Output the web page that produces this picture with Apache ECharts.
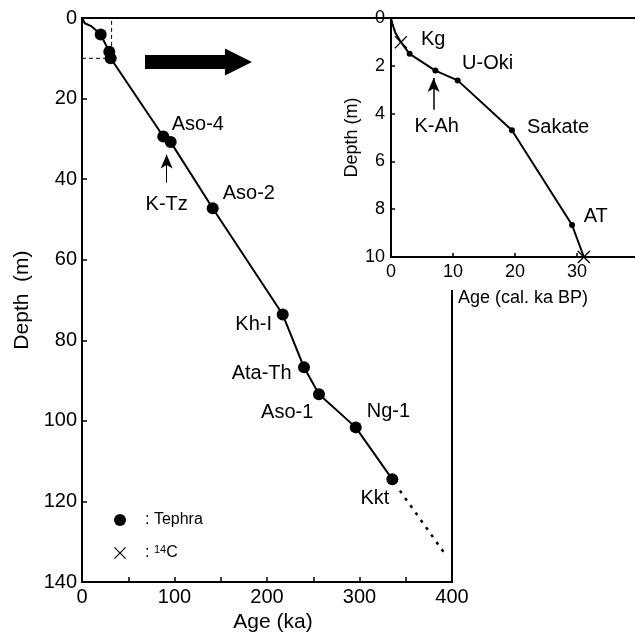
<!DOCTYPE html>
<html>
<head>
<meta charset="utf-8">
<script src="https://cdn.jsdelivr.net/npm/echarts@6/dist/echarts.min.js"></script>
<style>
  html, body { margin: 0; padding: 0; background: #fff; }
  #chart { width: 635px; height: 638px; }
</style>
</head>
<body>
<div id="chart"></div>
<script>
// main panel: age (ka) vs depth (m)
const mainLineAge = [0, 3, 10.5, 16, 20.2, 29.5, 31, 87.9, 95.9, 141.3, 217, 240, 256.2, 295.9, 335.5]
const mainLineDepth = [0, 1.3, 2.1, 3.2, 4.1, 8.4, 10, 29.4, 30.8, 47.2, 73.6, 86.7, 93.4, 101.6, 114.5]
const tephraNames = ['', '', '', 'Aso-4', 'K-Tz', 'Aso-2', 'Kh-I', 'Ata-Th', 'Aso-1', 'Ng-1', 'Kkt']
const tephraAge = [20.2, 29.5, 31, 87.9, 95.9, 141.3, 217, 240, 256.2, 295.9, 335.5]
const tephraDepth = [4.1, 8.4, 10, 29.4, 30.8, 47.2, 73.6, 86.7, 93.4, 101.6, 114.5]
const extrapAge = [343.7, 391.4]
const extrapDepth = [117.3, 132.7]
const boxAge = [0, 32, 32]
const boxDepth = [10, 10, 0]
const mainAgeTicks = [0, 100, 200, 300, 400]
const mainDepthTicks = [0, 20, 40, 60, 80, 100, 120, 140]

// inset: age (cal. ka BP) vs depth (m), top 10 m
const insetLineAge = [0, 0.2, 0.7, 1.6, 3.0, 7.15, 10.75, 19.5, 29.2, 31.1]
const insetLineDepth = [0, 0.22, 0.62, 1.01, 1.5, 2.2, 2.61, 4.7, 8.66, 10]
const insetTephraNames = ['Kg', 'K-Ah', 'U-Oki', 'Sakate', 'AT']
const insetTephraAge = [3.0, 7.15, 10.75, 19.5, 29.2]
const insetTephraDepth = [1.5, 2.2, 2.61, 4.7, 8.66]
const c14Age = [1.6, 31.1]
const c14Depth = [1.01, 10]

const font = 'Liberation Sans, Arial, sans-serif'
const crossPath = 'path://M0,0.7L0.7,0L5,4.3L9.3,0L10,0.7L5.7,5L10,9.3L9.3,10L5,5.7L0.7,10L0,9.3L4.3,5Z'

// label placement (px offsets from the marker centre)
const labelPos = {
  'Aso-4': ['left', 8.4, -11.6],
  'K-Tz': ['center', -4, 62.7],
  'Aso-2': ['left', 10, -14.3],
  'Kh-I': ['right', -10.7, 10],
  'Ata-Th': ['right', -12.3, 6.6],
  'Aso-1': ['right', -5.7, 18],
  'Ng-1': ['left', 11, -15.4],
  'Kkt': ['right', -3, 19],
  'Kg': ['left', 11.4, -14.3],
  'K-Ah': ['center', 1.3, 55.7],
  'U-Oki': ['left', 4.4, -16.7],
  'Sakate': ['left', 15, -2.4],
  'AT': ['left', 11.6, -8.3]
}

function pairs(xs, ys) {
  return xs.map((x, i) => [x, ys[i]])
}

function labelled(xs, ys, names) {
  return xs.map((x, i) => {
    const p = labelPos[names[i]]
    if (!p) return [x, ys[i]]
    return {
      value: [x, ys[i]],
      label: {
        show: true,
        formatter: names[i],
        position: 'inside',
        align: p[0],
        verticalAlign: 'middle',
        offset: [p[1], p[2]],
        color: '#000',
        opacity: 1,
        textBorderWidth: 0,
        fontSize: 20,
        fontFamily: font
      }
    }
  })
}

const chart = echarts.init(document.getElementById('chart'))

chart.setOption({
  animation: false,
  backgroundColor: '#fff',
  textStyle: { fontFamily: font, color: '#000' },
  legend: {
    left: 114,
    top: 512,
    padding: 0,
    orient: 'vertical',
    itemWidth: 12,
    itemHeight: 12,
    itemGap: 16,
    selectedMode: false,
    data: [
      { name: 'Tephra', icon: 'circle' },
      { name: '14C', icon: crossPath }
    ],
    formatter: name => name === '14C' ? '{g| }{t|: }{sup|14}{t|C}' : '{g| }{t|: Tephra}',
    textStyle: {
      fontSize: 16,
      color: '#000',
      fontFamily: font,
      rich: {
        g: { width: 14, fontSize: 16 },
        t: { fontSize: 16, lineHeight: 18, color: '#000', fontFamily: font },
        sup: { fontSize: 11, lineHeight: 11, verticalAlign: 'top', color: '#000', fontFamily: font }
      }
    }
  },
  grid: [
    { left: 82, top: 18, width: 370, height: 571, show: true, borderColor: '#000', borderWidth: 2, z: 0 },
    { left: 391, top: 18, width: 244, height: 239, show: false }
  ],
  graphic: [
    {
      type: 'rect',
      z: 4,
      shape: { x: 392, y: 19, width: 250, height: 271 },
      style: { fill: '#fff' },
      silent: true
    }
  ],
  xAxis: [
    {
      gridIndex: 0,
      type: 'value',
      position: 'bottom',
      min: 0,
      max: 400,
      interval: 50,
      name: 'Age (ka)',
      nameLocation: 'middle',
      nameGap: 25,
      nameTextStyle: { fontSize: 21, color: '#000', padding: [0, 0, 0, 12] },
      axisLine: { show: false, onZero: false },
      axisTick: { show: true, inside: true, length: 5, lineStyle: { color: '#000', width: 1.5 } },
      axisLabel: {
        fontSize: 20,
        color: '#000',
        margin: 5,
        formatter: v => mainAgeTicks.indexOf(v) >= 0 ? String(v) : ''
      },
      splitLine: { show: false }
    },
    {
      gridIndex: 1,
      type: 'value',
      position: 'bottom',
      min: 0,
      max: 39.35,
      interval: 10,
      z: 5,
      name: 'Age (cal. ka BP)',
      nameLocation: 'middle',
      nameGap: 32,
      nameTextStyle: { fontSize: 18, color: '#000', padding: [0, 0, 0, 20] },
      axisLine: { show: true, onZero: false, lineStyle: { color: '#000', width: 2 } },
      axisTick: { show: true, inside: true, length: 4, lineStyle: { color: '#000', width: 1.5 } },
      axisLabel: { fontSize: 18, color: '#000', margin: 6, showMaxLabel: false },
      splitLine: { show: false }
    },
    {
      gridIndex: 1,
      type: 'value',
      position: 'top',
      min: 0,
      max: 39.35,
      z: 5,
      axisLine: { show: true, onZero: false, lineStyle: { color: '#000', width: 2 } },
      axisTick: { show: false },
      axisLabel: { show: false },
      splitLine: { show: false }
    }
  ],
  yAxis: [
    {
      gridIndex: 0,
      type: 'value',
      position: 'left',
      inverse: true,
      min: 0,
      max: 140,
      interval: 20,
      name: 'Depth  (m)',
      nameLocation: 'middle',
      nameGap: 47,
      nameTextStyle: { fontSize: 21, color: '#000' },
      axisLine: { show: false, onZero: false },
      axisTick: { show: true, inside: true, length: 5, lineStyle: { color: '#000', width: 1.5 } },
      axisLabel: {
        fontSize: 20,
        color: '#000',
        margin: 5,
        formatter: v => mainDepthTicks.indexOf(v) >= 0 ? String(v) : ''
      },
      splitLine: { show: false }
    },
    {
      gridIndex: 1,
      type: 'value',
      position: 'left',
      inverse: true,
      min: 0,
      max: 10,
      interval: 2,
      z: 5,
      name: 'Depth (m)',
      nameLocation: 'middle',
      nameGap: 19,
      nameTextStyle: { fontSize: 18, color: '#000' },
      axisLine: { show: true, onZero: false, lineStyle: { color: '#000', width: 2 } },
      axisTick: { show: true, inside: true, length: 4, lineStyle: { color: '#000', width: 1.5 } },
      axisLabel: { fontSize: 18, color: '#000', margin: 6 },
      splitLine: { show: false }
    }
  ],
  series: [
    {
      name: 'mainLine',
      type: 'line',
      xAxisIndex: 0,
      yAxisIndex: 0,
      data: pairs(mainLineAge, mainLineDepth),
      showSymbol: false,
      lineStyle: { color: '#000', width: 2 },
      markLine: {
        silent: true,
        label: { show: false },
        data: [
          // K-Tz pointer
          [
            { coord: [91.5, 40.9], symbol: 'none' },
            { coord: [91.5, 33.9], symbol: 'arrow', symbolSize: [9, 14] }
          ],
          // big arrow pointing to the inset
          [
            { coord: [68.1, 10.9], symbol: 'none' },
            { coord: [169.1, 10.9], symbol: 'triangle', symbolSize: [27, 27] }
          ]
        ],
        lineStyle: { color: '#000', type: 'solid', opacity: 1 }
      }
    },
    {
      name: 'bigArrowWidth',
      type: 'line',
      xAxisIndex: 0,
      yAxisIndex: 0,
      data: [],
      markLine: {
        silent: true,
        symbol: ['none', 'none'],
        label: { show: false },
        lineStyle: { color: '#000', type: 'solid', width: 14, cap: 'butt', opacity: 1 },
        data: [[{ coord: [68.1, 10.9] }, { coord: [160, 10.9] }]]
      }
    },
    {
      name: 'extrapolation',
      type: 'line',
      xAxisIndex: 0,
      yAxisIndex: 0,
      data: pairs(extrapAge, extrapDepth),
      showSymbol: false,
      lineStyle: { color: '#000', width: 2.5, type: [3, 6] }
    },
    {
      name: 'insetBox',
      type: 'line',
      xAxisIndex: 0,
      yAxisIndex: 0,
      data: pairs(boxAge, boxDepth),
      showSymbol: false,
      lineStyle: { color: '#000', width: 1, type: [4, 3] }
    },
    {
      name: 'Tephra',
      type: 'scatter',
      xAxisIndex: 0,
      yAxisIndex: 0,
      symbol: 'circle',
      symbolSize: 12,
      itemStyle: { color: '#000', opacity: 1 },
      data: labelled(tephraAge, tephraDepth, tephraNames),
      z: 3
    },
    {
      name: 'insetLine',
      type: 'line',
      xAxisIndex: 1,
      yAxisIndex: 1,
      z: 6,
      data: pairs(insetLineAge, insetLineDepth),
      showSymbol: false,
      lineStyle: { color: '#000', width: 2 },
      markLine: {
        silent: true,
        label: { show: false },
        lineStyle: { color: '#000', type: 'solid', width: 1.5, opacity: 1 },
        data: [
          // K-Ah pointer
          [
            { coord: [6.87, 3.84], symbol: 'none' },
            { coord: [6.87, 2.51], symbol: 'arrow', symbolSize: [9, 14] }
          ]
        ]
      }
    },
    {
      name: 'Tephra',
      type: 'scatter',
      xAxisIndex: 1,
      yAxisIndex: 1,
      z: 7,
      symbol: 'circle',
      symbolSize: 6,
      itemStyle: { color: '#000', opacity: 1 },
      data: labelled(insetTephraAge, insetTephraDepth, insetTephraNames)
    },
    {
      name: '14C',
      type: 'scatter',
      xAxisIndex: 1,
      yAxisIndex: 1,
      z: 7,
      symbol: crossPath,
      symbolSize: 13,
      itemStyle: { color: '#000', opacity: 1 },
      data: pairs(c14Age, c14Depth)
    }
  ]
})
</script>
</body>
</html>
